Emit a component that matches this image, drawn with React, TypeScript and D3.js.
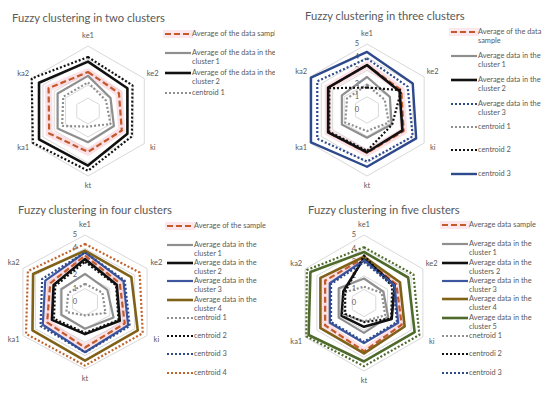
import React from "react";
import * as d3 from "d3";

// ---------- data ----------
const AXES = ["ke1", "ke2", "ki", "kt", "ka1", "ka2"];
const SCALE_TICKS = [0, 1, 2, 3, 4, 5];
const GRID_LEVELS = [1, 2, 3, 4, 5];

const TITLES = [
  "Fuzzy clustering in two clusters",
  "Fuzzy clustering in three clusters",
  "Fuzzy clustering in four clusters",
  "Fuzzy clustering in five clusters",
];

// Panel 1 (two clusters)
const p1AvgSample = [3.0, 2.75, 3.0, 3.15, 3.45, 3.5];
const p1Cluster1 = [2.7, 2.0, 2.3, 2.4, 2.7, 2.7];
const p1Cluster2 = [3.8, 3.5, 3.5, 4.2, 4.35, 4.35];
const p1Centroid1 = [2.2, 1.6, 2.0, 1.2, 2.3, 2.2];
const p1Centroid2 = [4.15, 3.95, 3.9, 4.6, 4.9, 5.0];
const p1Legend = [
  ["Average of the data sample"],
  ["Average of the data in the", "cluster 1"],
  ["Average of the data in the", "cluster 2"],
  ["centroid 1"],
];

// Panel 2 (three clusters)
const p2AvgSample = [3.4, 3.0, 3.2, 3.25, 3.4, 3.4];
const p2Cluster1 = [2.5, 2.0, 2.15, 2.1, 2.2, 2.2];
const p2Cluster2 = [3.4, 2.85, 3.1, 3.2, 3.4, 3.4];
const p2Cluster3 = [3.9, 3.55, 4.0, 3.9, 4.35, 4.35];
const p2Centroid1 = [1.9, 1.55, 1.9, 1.6, 1.9, 1.75];
const p2Centroid2 = [1.7, 3.0, 2.2, 3.1, 3.3, 3.3];
const p2Centroid3 = [4.4, 4.0, 4.3, 4.3, 4.9, 4.9];
const p2Legend = [
  ["Average of the data", "sample"],
  ["Average data in the", "cluster 1"],
  ["Average data in the", "cluster 2"],
  ["Average data in the", "cluster 3"],
  ["centroid 1"],
  ["centroid 2"],
  ["centroid 3"],
];

// Panel 3 (four clusters)
const p3AvgSample = [3.46, 2.8, 3.2, 3.4, 3.05, 2.8];
const p3Cluster1 = [2.1, 1.8, 2.3, 2.0, 1.9, 1.9];
const p3Cluster2 = [3.2, 2.56, 2.8, 2.4, 2.66, 2.53];
const p3Cluster3 = [3.7, 3.1, 3.47, 3.75, 3.4, 3.2];
const p3Cluster4 = [3.83, 3.73, 4.25, 4.38, 4.23, 4.18];
const p3Centroid1 = [1.35, 1.4, 1.65, 1.0, 1.5, 1.35];
const p3Centroid2 = [3.0, 2.5, 2.7, 2.3, 2.5, 2.4];
const p3Centroid3 = [3.7, 3.2, 3.6, 3.75, 3.58, 3.45];
const p3Centroid4 = [4.33, 4.4, 4.65, 4.75, 4.75, 4.6];
const p3Legend = [
  ["Average of the sample"],
  ["Average data in the", "cluster 1"],
  ["Average data in the", "cluster 2"],
  ["Average data in the", "cluster 3"],
  ["Average data in the", "cluster 4"],
  ["centroid 1"],
  ["centroid 2"],
  ["centroid 3"],
  ["centroid 4"],
];

// Panel 4 (five clusters)
const p4AvgSample = [3.3, 2.75, 3.2, 3.55, 3.3, 3.3];
const p4Cluster1 = [1.8, 1.65, 2.05, 2.2, 2.15, 2.15];
const p4Cluster2 = [3.3, 2.6, 2.35, 1.75, 1.9, 1.75];
const p4Cluster3 = [3.15, 2.6, 2.9, 2.95, 2.9, 2.9];
const p4Cluster4 = [3.4, 3.05, 3.45, 3.7, 3.7, 3.7];
const p4Cluster5 = [3.75, 3.75, 4.3, 4.3, 4.7, 4.55];
const p4Centroid1 = [1.2, 1.5, 1.8, 1.35, 1.75, 1.6];
const p4Centroid2 = [3.5, 2.4, 2.3, 1.4, 1.6, 1.6];
const p4Centroid3 = [3.0, 2.5, 2.8, 2.85, 2.8, 2.8];
const p4Centroid5 = [4.1, 4.2, 4.7, 4.65, 4.9, 4.85];
const p4Legend = [
  ["Average data sample"],
  ["Average data in the", "cluster 1"],
  ["Average data in the", "clusters 2"],
  ["Average data in the", "cluster 3"],
  ["Average data in the", "cluster 4"],
  ["Average data in the", "cluster 5"],
  ["cnetroid 1"],
  ["centrodi 2"],
  ["centroid 3"],
];

// ---------- styles ----------
const C = {
  avg: "#c4592a",
  gray: "#8f8f8f",
  black: "#111111",
  blue: "#3c56a0",
  navy: "#2e4a8c",
  brown: "#7f6218",
  orange: "#c0642a",
  green: "#4f6b2c",
  text: "#595959",
  grid: "#d9d9d9",
};

type Style = { color: string; kind: "solid" | "dash" | "dot"; width?: number };
const ST = {
  avg: { color: C.avg, kind: "dash" } as Style,
  c1: { color: C.gray, kind: "solid" } as Style,
  c2: { color: C.black, kind: "solid", width: 2.6 } as Style,
  c3: { color: C.blue, kind: "solid" } as Style,
  c4: { color: C.brown, kind: "solid", width: 2.6 } as Style,
  c5: { color: C.green, kind: "solid", width: 2.6 } as Style,
  k1: { color: C.gray, kind: "dot" } as Style,
  k2: { color: C.black, kind: "dot" } as Style,
  k3: { color: C.navy, kind: "dot" } as Style,
  k3solid: { color: C.navy, kind: "solid", width: 2.4 } as Style,
  k4: { color: C.orange, kind: "dot" } as Style,
  k5: { color: C.green, kind: "dot" } as Style,
  c3dot: { color: C.navy, kind: "dot" } as Style,
};

function dashOf(s: Style) {
  if (s.kind === "dash") return "6 3";
  if (s.kind === "dot") return "2 2";
  return undefined;
}

type Series = { values: number[]; style: Style; glow?: boolean };

type PanelProps = {
  title: string;
  titleX: number;
  titleY: number;
  cx: number;
  cy: number;
  R: number;
  sx?: number;
  series: Series[];
  legend: string[][];
  legendStyles: Style[];
  legendX: number;
  legendYs: number[];
  showTicks: boolean;
  clip?: [number, number, number, number];
  id: string;
};

const FONT = "Lato, 'Open Sans', sans-serif";

function Panel(p: PanelProps) {
  const sx = p.sx ?? 1;
  const r = d3.scaleLinear().domain([0, 5]).range([0, p.R]);
  const ang = d3
    .scalePoint<string>()
    .domain(AXES)
    .range([0, (2 * Math.PI * (AXES.length - 1)) / AXES.length]);
  const pt = (axis: string, v: number): [number, number] => {
    const a = ang(axis) as number;
    return [p.cx + r(v) * Math.sin(a) * sx, p.cy - r(v) * Math.cos(a)];
  };
  const line = d3.line<[number, number]>().curve(d3.curveLinearClosed);
  const poly = (vals: number[]) => line(AXES.map((a, i) => pt(a, vals[i]))) as string;

  const content = (
    <g>
      <text x={p.titleX} y={p.titleY} fontSize={11.2} fill={C.text} fontFamily={FONT}>
        {p.title}
      </text>
      {GRID_LEVELS.map((g) => (
        <path key={g} d={poly(AXES.map(() => g))} fill="none" stroke={C.grid} strokeWidth={1} />
      ))}
      {p.showTicks &&
        SCALE_TICKS.map((t) => (
          <text
            key={t}
            x={p.cx - 10}
            y={p.cy - r(t)}
            fontSize={7.5}
            fill={C.text}
            fontFamily={FONT}
            textAnchor="middle"
            dominantBaseline="middle"
          >
            {t}
          </text>
        ))}
      {AXES.map((a) => {
        const [x, y] = pt(a, 5.75);
        return (
          <text
            key={a}
            x={x}
            y={y}
            fontSize={7.5}
            fill={C.text}
            fontFamily={FONT}
            textAnchor="middle"
            dominantBaseline="middle"
          >
            {a}
          </text>
        );
      })}
      {p.series.map((s, i) => (
        <g key={i}>
          {s.glow && (
            <path d={poly(s.values)} fill="none" stroke="#f7c6d2" strokeOpacity={0.55} strokeWidth={7} />
          )}
          <path
            d={poly(s.values)}
            fill="none"
            stroke={s.style.color}
            strokeWidth={s.style.width ?? 2.2}
            strokeDasharray={dashOf(s.style)}
            strokeLinejoin="round"
          />
        </g>
      ))}
      {p.legend.map((lines, i) => {
        const st = p.legendStyles[i];
        const y = p.legendYs[i];
        return (
          <g key={i}>
            {i === 0 && (
              <rect x={p.legendX - 2} y={y - 4} width={30} height={8} fill="#fbdde4" opacity={0.7} />
            )}
            <line
              x1={p.legendX}
              x2={p.legendX + 26}
              y1={y}
              y2={y}
              stroke={st.color}
              strokeWidth={st.width ?? 2.2}
              strokeDasharray={dashOf(st)}
            />
            {lines.map((t, j) => (
              <text
                key={j}
                x={p.legendX + 27}
                y={y + j * 9.6}
                fontSize={7.4}
                fill={C.text}
                fontFamily={FONT}
                dominantBaseline="middle"
              >
                {t}
              </text>
            ))}
          </g>
        );
      })}
    </g>
  );

  if (p.clip) {
    const [x, y, w, h] = p.clip;
    return (
      <g>
        <defs>
          <clipPath id={p.id}>
            <rect x={x} y={y} width={w} height={h} />
          </clipPath>
        </defs>
        <g clipPath={`url(#${p.id})`}>{content}</g>
      </g>
    );
  }
  return content;
}

export default function App() {
  return (
    <svg
      width={550}
      height={394}
      style={{ position: "absolute", left: 0, top: 0, background: "#fff" }}
    >
      <rect width={550} height={394} fill="#fff" />
      <Panel
        id="p1"
        title={TITLES[0]}
        titleX={12}
        titleY={22}
        cx={88}
        cy={111}
        R={65}
        series={[
          { values: p1AvgSample, style: ST.avg, glow: true },
          { values: p1Cluster1, style: ST.c1 },
          { values: p1Cluster2, style: ST.c2 },
          { values: p1Centroid1, style: ST.k1 },
          { values: p1Centroid2, style: ST.k2 },
        ]}
        legend={p1Legend}
        legendStyles={[ST.avg, ST.c1, ST.c2, ST.k1]}
        legendX={165}
        legendYs={[34, 53, 73, 93]}
        showTicks={false}
        clip={[0, 0, 275, 197]}
      />
      <Panel
        id="p2"
        title={TITLES[1]}
        titleX={305}
        titleY={20}
        cx={367}
        cy={110}
        R={66}
        series={[
          { values: p2AvgSample, style: ST.avg, glow: true },
          { values: p2Cluster1, style: ST.c1 },
          { values: p2Cluster2, style: ST.c2 },
          { values: p2Cluster3, style: ST.c3dot },
          { values: p2Centroid1, style: ST.k1 },
          { values: p2Centroid2, style: ST.k2 },
          { values: p2Centroid3, style: ST.k3solid },
        ]}
        legend={p2Legend}
        legendStyles={[ST.avg, ST.c1, ST.c2, ST.c3dot, ST.k1, ST.k2, ST.k3solid]}
        legendX={451}
        legendYs={[32, 56, 80, 104, 127, 150, 174]}
        showTicks={true}
      />
      <Panel
        id="p3"
        title={TITLES[2]}
        titleX={18}
        titleY={214}
        cx={85}
        cy={302}
        R={67}
        sx={1.07}
        series={[
          { values: p3AvgSample, style: ST.avg, glow: true },
          { values: p3Cluster1, style: ST.c1 },
          { values: p3Cluster2, style: ST.c2 },
          { values: p3Cluster3, style: ST.c3 },
          { values: p3Cluster4, style: ST.c4 },
          { values: p3Centroid1, style: ST.k1 },
          { values: p3Centroid2, style: ST.k2 },
          { values: p3Centroid3, style: ST.k3 },
          { values: p3Centroid4, style: ST.k4 },
        ]}
        legend={p3Legend}
        legendStyles={[ST.avg, ST.c1, ST.c2, ST.c3, ST.c4, ST.k1, ST.k2, ST.k3, ST.k4]}
        legendX={167}
        legendYs={[226, 245, 263, 281, 300, 318, 336, 354, 373]}
        showTicks={true}
      />
      <Panel
        id="p4"
        title={TITLES[3]}
        titleX={308}
        titleY={214}
        cx={364}
        cy={303}
        R={68}
        series={[
          { values: p4AvgSample, style: ST.avg, glow: true },
          { values: p4Cluster1, style: ST.c1 },
          { values: p4Cluster2, style: ST.c2 },
          { values: p4Cluster3, style: ST.c3 },
          { values: p4Cluster4, style: ST.c4 },
          { values: p4Cluster5, style: ST.c5 },
          { values: p4Centroid1, style: ST.k1 },
          { values: p4Centroid2, style: ST.k2 },
          { values: p4Centroid3, style: ST.k3 },
          { values: p4Centroid5, style: ST.k5 },
        ]}
        legend={p4Legend}
        legendStyles={[ST.avg, ST.c1, ST.c2, ST.c3, ST.c4, ST.c5, ST.k1, ST.k2, ST.k3]}
        legendX={442}
        legendYs={[225, 244, 263, 281, 299, 318, 336, 354, 373]}
        showTicks={true}
      />
    </svg>
  );
}
